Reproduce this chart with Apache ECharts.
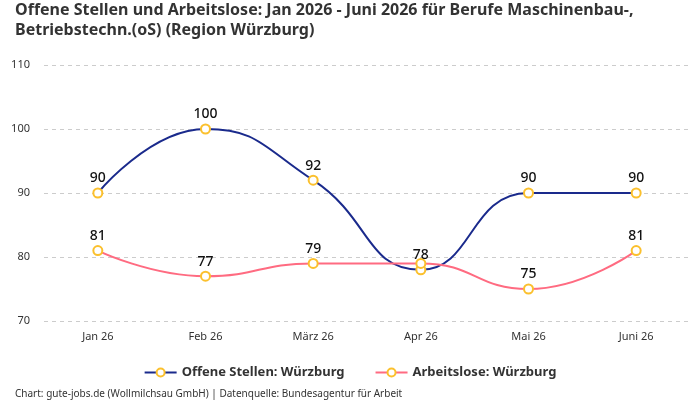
<!DOCTYPE html>
<html><head><meta charset="utf-8">
<script src="https://cdn.jsdelivr.net/npm/echarts@6/dist/echarts.min.js"></script>
<style>html,body{margin:0;padding:0;background:#fff}#c{width:700px;height:400px}</style>
</head><body><div id="c"></div>
<script>
const categories = ['Jan 26','Feb 26','März 26','Apr 26','Mai 26','Juni 26'];
const offeneStellen = [90,100,92,78,90,90];
const arbeitslose = [81,77,79,79,75,81];
const seriesNames = ['Offene Stellen: Würzburg','Arbeitslose: Würzburg'];
const titleText = 'Offene Stellen und Arbeitslose: Jan 2026 - Juni 2026 für Berufe Maschinenbau-,\nBetriebstechn.(oS) (Region Würzburg)';
const footerText = 'Chart: gute-jobs.de (Wollmilchsau GmbH) | Datenquelle: Bundesagentur für Arbeit';
const FONT = '"Noto Sans", sans-serif';
const YELLOW = '#fbc02d';
const chart = echarts.init(document.getElementById('c'));
function mk(name, data, color){
  return {
    name, type:'line', data, smooth:true,
    symbol:'emptyCircle', symbolSize:9,
    lineStyle:{color, width:2},
    itemStyle:{color:YELLOW, borderWidth:2},
    label:{show:true, position:'top', color:'#111', fontFamily:FONT, fontSize:14, fontWeight:500, distance:2},
    labelLayout:{hideOverlap:true},
    emphasis:{disabled:true}
  };
}
chart.setOption({
  animation:false,
  title:[{text:titleText, left:10, top:-5, textStyle:{fontFamily:FONT, fontSize:16, fontWeight:'bold', color:'#333', lineHeight:20}},
         {text:footerText, left:10, bottom:-4, textStyle:{fontFamily:FONT, fontSize:10, fontWeight:'normal', color:'#333'}}],
  legend:{bottom:16, left:'center', itemGap:30, itemWidth:32, itemHeight:10,
    textStyle:{fontFamily:FONT, fontSize:13, fontWeight:'bold', color:'#333'},
    data:[{name:seriesNames[0], itemStyle:{color:YELLOW}, lineStyle:{color:'#1a2a8c'}},
          {name:seriesNames[1], itemStyle:{color:YELLOW}, lineStyle:{color:'#ff6b81'}}]},
  grid:{left:44, right:10, top:65, bottom:79, containLabel:false},
  xAxis:{type:'category', data:categories, boundaryGap:true,
    axisLine:{show:false}, axisTick:{show:false},
    axisLabel:{fontFamily:FONT, fontSize:11, color:'#333', margin:10}},
  yAxis:{type:'value', min:70, max:110, interval:10,
    axisLine:{show:false}, axisTick:{show:false},
    axisLabel:{fontFamily:FONT, fontSize:11, color:'#333', margin:14},
    splitLine:{lineStyle:{color:'#ccc', type:[4,4]}}},
  series:[mk(seriesNames[0], offeneStellen, '#1a2a8c'), mk(seriesNames[1], arbeitslose, '#ff6b81')]
});
</script></body></html>
